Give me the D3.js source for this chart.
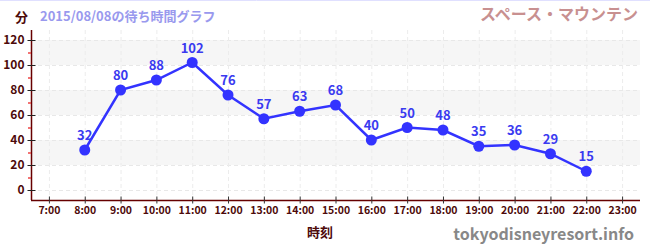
<!DOCTYPE html>
<html>
<head>
<meta charset="utf-8">
<script src="https://cdn.jsdelivr.net/npm/d3@7/dist/d3.min.js"></script>
<style>
  body { margin: 0; background: #fff; }
  text { font-family: "Noto Sans CJK JP", "Noto Sans", sans-serif; font-weight: bold; }
</style>
</head>
<body>
<svg id="chart" width="650" height="250"></svg>
<script>
const hours = ["8:00", "9:00", "10:00", "11:00", "12:00", "13:00", "14:00", "15:00",
               "16:00", "17:00", "18:00", "19:00", "20:00", "21:00", "22:00"]
const waits = [32, 80, 88, 102, 76, 57, 63, 68, 40, 50, 48, 35, 36, 29, 15]
const xTicks = ["7:00", "8:00", "9:00", "10:00", "11:00", "12:00", "13:00", "14:00", "15:00",
                "16:00", "17:00", "18:00", "19:00", "20:00", "21:00", "22:00", "23:00"]
const yTicks = [0, 20, 40, 60, 80, 100, 120]
const bands = [[20, 40], [60, 80], [100, 120]]

const svg = d3.select("#chart")
const plotLeft = 31, plotRight = 640, plotTop = 30, plotBottom = 200

const hourNum = s => +s.split(":")[0]

const x = d3.scaleLinear().domain([6.5, 23.5]).range([plotLeft, plotRight])
const y = d3.scaleLinear().domain([-8, 128]).range([plotBottom, plotTop])

// top border line
svg.append("line").attr("x1", 0).attr("x2", 650).attr("y1", 0.5).attr("y2", 0.5)
    .attr("stroke", "#e0e0ff").attr("stroke-width", 1)

// bands
svg.selectAll("rect.band").data(bands).join("rect")
    .attr("class", "band")
    .attr("x", plotLeft).attr("width", plotRight - plotLeft)
    .attr("y", d => y(d[1])).attr("height", d => y(d[0]) - y(d[1]))
    .attr("fill", "#f6f6f6")

// grid
svg.selectAll("line.hgrid").data(yTicks).join("line")
    .attr("class", "hgrid")
    .attr("x1", plotLeft).attr("x2", plotRight)
    .attr("y1", d => y(d) + 0.5).attr("y2", d => y(d) + 0.5)
    .attr("stroke", "#e8e8e8").attr("stroke-dasharray", "4,3")
svg.selectAll("line.vgrid").data(xTicks).join("line")
    .attr("class", "vgrid")
    .attr("x1", d => x(hourNum(d)) + 0.5).attr("x2", d => x(hourNum(d)) + 0.5)
    .attr("y1", plotTop).attr("y2", plotBottom)
    .attr("stroke", "#ececec").attr("stroke-dasharray", "4,3")

// y axis
const yAxis = svg.append("g").attr("transform", `translate(${plotLeft + 0.5},0)`)
    .call(d3.axisLeft(y).tickValues(yTicks).tickSize(4).tickPadding(3))
yAxis.select(".domain").attr("stroke", "#660000").attr("stroke-width", 1.5)
    .attr("d", `M0,${plotTop}V${plotBottom}`)
yAxis.selectAll(".tick line").attr("x2", -4).attr("x1", 4).attr("stroke", "#222")
yAxis.selectAll(".tick text").attr("fill", "#4d0a0a").attr("font-size", 12)
    .attr("font-family", "'Noto Sans CJK JP', sans-serif").attr("font-weight", "bold")
svg.selectAll("line.minor").data(d3.range(10, 130, 20)).join("line")
    .attr("class", "minor")
    .attr("x1", plotLeft - 3).attr("x2", plotLeft)
    .attr("y1", d => y(d) + 0.5).attr("y2", d => y(d) + 0.5)
    .attr("stroke", "#ee4444").attr("stroke-width", 1.5)

// x axis
const xAxis = svg.append("g").attr("transform", `translate(0,${plotBottom + 0.5})`)
    .call(d3.axisBottom(x).tickValues(xTicks.map(hourNum)).tickFormat(d => d + ":00")
        .tickSize(4).tickPadding(2))
xAxis.select(".domain").attr("stroke", "#660000").attr("stroke-width", 1.5)
    .attr("d", `M${plotLeft},0H${plotRight}`)
xAxis.selectAll(".tick line").attr("y1", -4).attr("y2", 3).attr("stroke", "#333")
xAxis.selectAll(".tick text").attr("fill", "#4d0a0a").attr("font-size", 10.5)
    .attr("font-family", "'Noto Sans CJK JP', sans-serif").attr("font-weight", "bold")

// line + points
const pts = hours.map((h, i) => ({ h: hourNum(h), v: waits[i] }))
svg.append("path").datum(pts)
    .attr("d", d3.line().x(d => x(d.h)).y(d => y(d.v)))
    .attr("fill", "none").attr("stroke", "#3333ff").attr("stroke-width", 2.5)
svg.selectAll("circle.pt").data(pts).join("circle")
    .attr("class", "pt")
    .attr("cx", d => x(d.h)).attr("cy", d => y(d.v)).attr("r", 5.5)
    .attr("fill", "#3333ff")
svg.selectAll("text.lbl").data(pts).join("text")
    .attr("class", "lbl")
    .attr("x", d => x(d.h)).attr("y", d => y(d.v) - 10)
    .attr("text-anchor", "middle").attr("font-size", 13)
    .attr("fill", "#3a3af0")
    .text(d => d.v)

// titles
svg.append("text").attr("x", 15).attr("y", 22).attr("font-size", 13)
    .attr("fill", "#4d0a0a").text("分")
svg.append("text").attr("x", 40).attr("y", 21).attr("font-size", 13)
    .attr("fill", "#9999ee").text("2015/08/08の待ち時間グラフ")
svg.append("text").attr("x", 638).attr("y", 20).attr("text-anchor", "end").attr("font-size", 16)
    .attr("fill", "#c89090").text("スペース・マウンテン")
svg.append("text").attr("x", 320).attr("y", 237).attr("text-anchor", "middle").attr("font-size", 13)
    .attr("fill", "#4d0a0a").text("時刻")
svg.append("text").attr("x", 634).attr("y", 240).attr("text-anchor", "end").attr("font-size", 16)
    .attr("fill", "#888").text("tokyodisneyresort.info")
</script>
</body>
</html>
